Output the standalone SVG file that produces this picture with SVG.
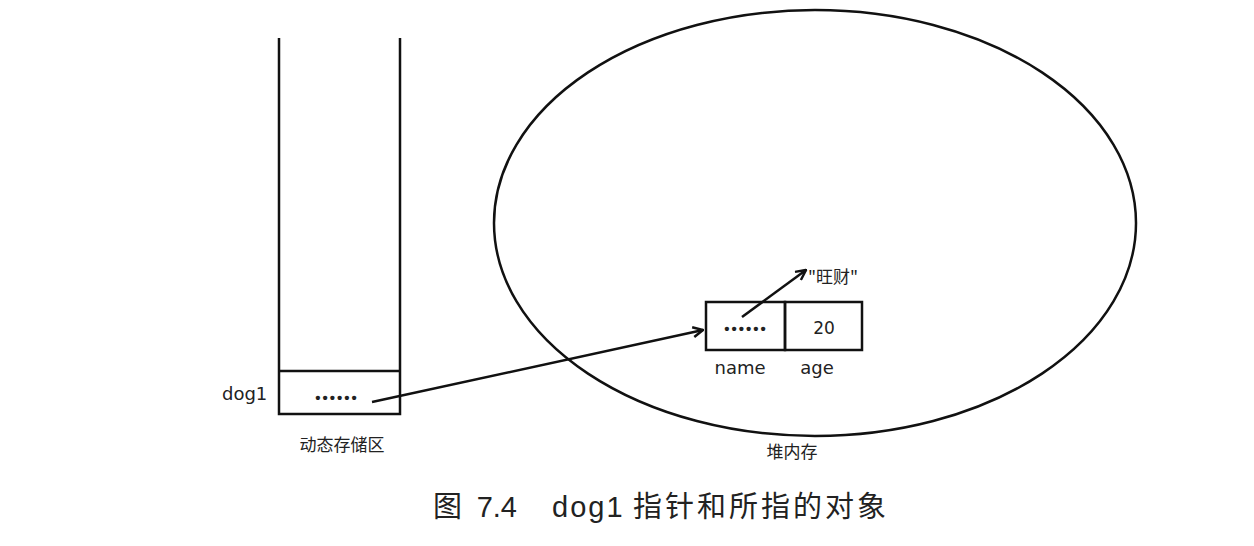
<svg xmlns="http://www.w3.org/2000/svg" width="1254" height="546" viewBox="0 0 1254 546">
<defs>
<style>
.ln{stroke:#111;stroke-width:2.5;fill:none}
.t{font-family:"DejaVu Sans","Noto Sans CJK SC",sans-serif;fill:#222}
.c{font-family:"Noto Sans CJK SC",sans-serif;fill:#222}
.d{font-family:"Liberation Sans",sans-serif;fill:#222;font-weight:bold}
.cap{font-family:"Liberation Sans","Noto Sans CJK SC",sans-serif;fill:#222;font-size:29px}
</style>
<marker id="ah" viewBox="0 0 12 12" refX="11" refY="6" markerWidth="12" markerHeight="12" markerUnits="userSpaceOnUse" orient="auto">
<path d="M1,1 L11,6 L1,11" fill="none" stroke="#111" stroke-width="2.5"/>
</marker>
</defs>
<rect width="1254" height="546" fill="#fff"/>
<g id="stack">
<path class="ln" d="M279,38 V414 H400 V38 M279,371 H400"/>
<text class="t" x="222" y="400" font-size="18">dog1</text>
<text class="d" x="337" y="403" font-size="15" text-anchor="middle" letter-spacing="2">••••••</text>
<text class="c" x="342" y="451" font-size="17" text-anchor="middle">动态存储区</text>
</g>
<g id="heap">
<ellipse class="ln" cx="815" cy="223" rx="321" ry="213"/>
<text class="c" x="792" y="458" font-size="17" text-anchor="middle">堆内存</text>
</g>
<g id="object">
<rect class="ln" x="706" y="302" width="79" height="48"/>
<rect class="ln" x="785" y="302" width="77" height="48"/>
<text class="d" x="746" y="334" font-size="15" text-anchor="middle" letter-spacing="2">••••••</text>
<text class="t" x="824" y="334" font-size="17" text-anchor="middle">20</text>
<text class="t" x="740" y="374" font-size="18" text-anchor="middle">name</text>
<text class="t" x="817" y="374" font-size="18" text-anchor="middle">age</text>
</g>
<g id="string">
<text class="c" x="833" y="283" font-size="17" text-anchor="middle">"旺财"</text>
</g>
<g id="connectors">
<line class="ln" x1="372" y1="402" x2="703" y2="330" marker-end="url(#ah)"/>
<line class="ln" x1="742" y1="317" x2="806" y2="270" marker-end="url(#ah)"/>
</g>
<g id="caption">
<text class="cap" x="433" y="517">图</text>
<text class="cap" x="517" y="517" text-anchor="end">7.4</text>
<text class="cap" x="552" y="517" letter-spacing="2">dog1</text>
<text class="cap" x="633" y="517" letter-spacing="3">指针和所指的对象</text>
</g>
</svg>
